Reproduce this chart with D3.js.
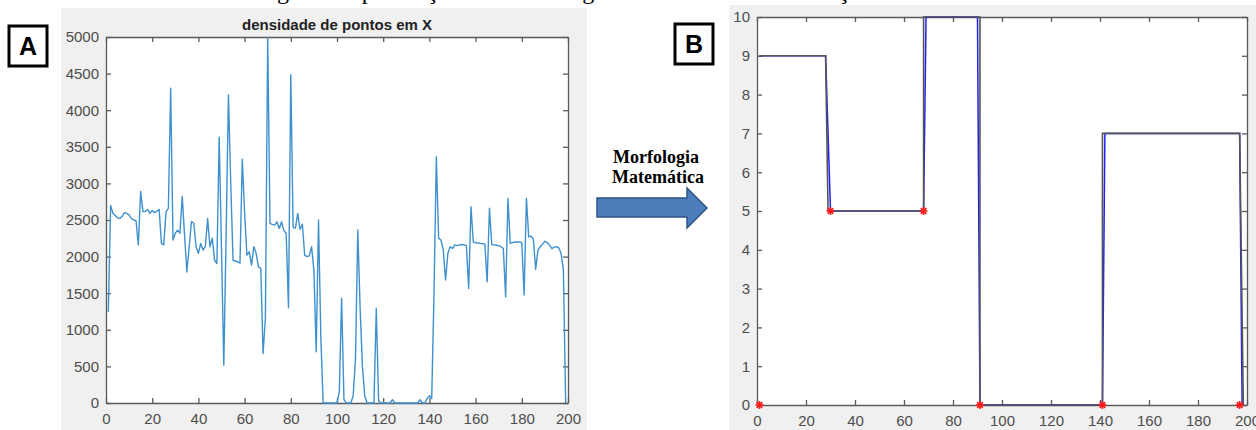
<!DOCTYPE html>
<html>
<head>
<meta charset="utf-8">
<script src="https://cdn.jsdelivr.net/npm/d3@7"></script>
<style>
  body { margin: 0; background: #fff; }
  svg { display: block; }
</style>
</head>
<body>
<svg id="fig" width="1256" height="430"></svg>
<script>
// ---- dados ----
// A: densidade de pontos por coluna, X = 1..199
const densidade = [
  1245, 2700, 2590, 2560, 2530, 2520, 2550, 2600, 2590, 2570,
  2520, 2500, 2490, 2160, 2890, 2615, 2615, 2645, 2590, 2630,
  2600, 2620, 2645, 2180, 2160, 2615, 2660, 4300, 2225, 2320,
  2360, 2320, 2820, 2300, 1790, 2135, 2480, 2455, 2135, 2045,
  2180, 2090, 2135, 2520, 2135, 2250, 1950, 1905, 3630, 2100,
  515, 2300, 4210, 3000, 1950, 1940, 1930, 1910, 3330, 2600,
  2020, 2065, 1885, 2135, 2045, 1860, 1840, 675, 1155, 4990,
  2455, 2440, 2430, 2475, 2385, 2475, 2355, 2320, 1300, 4485,
  2400, 2390, 2590, 2370, 2445, 2020, 2000, 2010, 2135, 1815,
  700, 2500, 900, 0, 0, 0, 0, 0, 0, 0,
  150, 1430, 50, 0, 0, 0, 100, 600, 2365, 1300,
  500, 100, 0, 0, 0, 0, 1290, 35, 0, 0,
  0, 0, 0, 45, 0, 0, 0, 0, 0, 0,
  0, 0, 0, 0, 0, 45, 0, 0, 60, 100,
  60, 1500, 3365, 2250, 2225, 2090, 1680, 2045, 2135, 2110,
  2160, 2150, 2160, 2165, 2160, 2150, 1565, 2680, 2200, 2190,
  2185, 2180, 2175, 2170, 1655, 2660, 2165, 2160, 2155, 2150,
  2135, 2110, 1450, 2795, 2180, 2190, 2200, 2200, 2200, 2190,
  1475, 2795, 2270, 2280, 2240, 1825, 2090, 2135, 2170, 2210,
  2190, 2160, 2110, 2130, 2135, 2120, 2045, 1815, 0
];

// B: sinal apos morfologia (azul) e contorno (preto)
const azulX = [1, 28, 30, 68, 69, 90, 91, 141, 142, 197, 198];
const azulY = [9, 9, 5, 5, 10, 10, 0, 0, 7, 7, 0];
const pretoX = [1, 28, 29, 68, 68, 91, 91, 141, 141, 197, 198.5];
const pretoY = [9, 9, 5, 5, 10, 10, 0, 0, 7, 7, 0];
// pontos de transicao (asteriscos vermelhos)
const marcaX = [1, 30, 68, 91, 141, 197];
const marcaY = [0, 5, 5, 0, 0, 0];

// ticks
const ticksX = [0, 20, 40, 60, 80, 100, 120, 140, 160, 180, 200];
const ticksYA = [0, 500, 1000, 1500, 2000, 2500, 3000, 3500, 4000, 4500, 5000];
const ticksYB = [0, 1, 2, 3, 4, 5, 6, 7, 8, 9, 10];

const legenda = 'Figura 9 – pontuação do sinal e o gráfico obtido com a detecção';
const tituloA = 'densidade de pontos em X';

const svg = d3.select('#fig');
const sans = '"Liberation Sans", Arial, Helvetica, sans-serif';
const serif = '"Liberation Serif", "Times New Roman", serif';

// legenda cortada no topo da imagem (so as descendentes aparecem)
svg.append('text')
  .attr('x', 257).attr('y', -1)
  .style('font-family', serif).style('font-size', '24px')
  .text(legenda);

// fundos cinza das figuras do matlab
svg.append('rect').attr('x', 61).attr('y', 8).attr('width', 526).attr('height', 422).attr('fill', '#f0f0f0');
svg.append('rect').attr('x', 729).attr('y', 5).attr('width', 527).attr('height', 425).attr('fill', '#f0f0f0');

// caixas A / B
function caixa(x, y, letra) {
  svg.append('rect').attr('x', x).attr('y', y).attr('width', 38).attr('height', 40)
    .attr('fill', '#fff').attr('stroke', '#000').attr('stroke-width', 3);
  svg.append('text').attr('x', x + 19).attr('y', y + 29)
    .attr('text-anchor', 'middle')
    .style('font-family', sans).style('font-weight', 'bold').style('font-size', '25px')
    .text(letra);
}
caixa(9, 26, 'A');
caixa(675, 24, 'B');

// eixos estilo matlab: caixa com ticks para dentro
function moldura(g, xs, ys, yTicks, w, h) {
  g.append('rect').attr('width', w).attr('height', h).attr('fill', '#fff');
  const fmt = d3.format('d');
  const eixos = [
    g.append('g').attr('transform', `translate(0,${h})`)
      .call(d3.axisBottom(xs).tickValues(ticksX).tickFormat(fmt).tickSizeInner(-5).tickSizeOuter(0).tickPadding(10)),
    g.append('g')
      .call(d3.axisTop(xs).tickValues(ticksX).tickSizeInner(-5).tickSizeOuter(0).tickFormat('')),
    g.append('g')
      .call(d3.axisLeft(ys).tickValues(yTicks).tickFormat(fmt).tickSizeInner(-5).tickSizeOuter(0).tickPadding(7)),
    g.append('g').attr('transform', `translate(${w},0)`)
      .call(d3.axisRight(ys).tickValues(yTicks).tickSizeInner(-5).tickSizeOuter(0).tickFormat(''))
  ];
  eixos.forEach(a => {
    a.attr('font-family', sans).attr('font-size', 15);
    a.selectAll('.domain, .tick line').attr('stroke', '#5a5a5a').attr('stroke-width', 1.3);
    a.selectAll('text').attr('fill', '#4d4d4d');
  });
}

// ---- painel A ----
const A = { left: 106, top: 37, w: 462, h: 366 };
const gA = svg.append('g').attr('transform', `translate(${A.left},${A.top})`);
const xA = d3.scaleLinear().domain([0, 200]).range([0, A.w]);
const yA = d3.scaleLinear().domain([0, 5000]).range([A.h, 0]);
moldura(gA, xA, yA, ticksYA, A.w, A.h);

const linhaA = d3.line().x((d, i) => xA(i + 1)).y(d => yA(d));
gA.append('path').datum(densidade)
  .attr('d', linhaA)
  .attr('fill', 'none').attr('stroke', '#3f90ce').attr('stroke-width', 1.4)
  .attr('stroke-linejoin', 'round');

gA.append('text')
  .attr('x', A.w / 2).attr('y', -7)
  .attr('text-anchor', 'middle')
  .style('font-family', sans).style('font-weight', 'bold').style('font-size', '15px')
  .attr('fill', '#222')
  .text(tituloA);

// ---- seta ----
const seta = d3.path();
seta.moveTo(597, 198); seta.lineTo(687, 198); seta.lineTo(687, 188); seta.lineTo(707, 208);
seta.lineTo(687, 228); seta.lineTo(687, 217); seta.lineTo(597, 217); seta.closePath();
svg.append('path').attr('d', seta.toString())
  .attr('fill', '#4a7dba').attr('stroke', '#2f5486').attr('stroke-width', 1.5);

const rotulo = svg.append('text')
  .attr('text-anchor', 'middle')
  .style('font-family', serif).style('font-weight', 'bold').style('font-size', '18px');
rotulo.append('tspan').attr('x', 656).attr('y', 163).text('Morfologia');
rotulo.append('tspan').attr('x', 658).attr('y', 183).text('Matemática');

// ---- painel B ----
const B = { left: 757, top: 17, w: 490, h: 388 };
const gB = svg.append('g').attr('transform', `translate(${B.left},${B.top})`);
const xB = d3.scaleLinear().domain([0, 200]).range([0, B.w]);
const yB = d3.scaleLinear().domain([0, 10]).range([B.h, 0]);
moldura(gB, xB, yB, ticksYB, B.w, B.h);

const linhaB = d3.line().x(d => xB(d[0])).y(d => yB(d[1]));
gB.append('path').datum(d3.zip(azulX, azulY))
  .attr('d', linhaB).attr('fill', 'none').attr('stroke', '#1f1fff').attr('stroke-width', 1.5);
gB.append('path').datum(d3.zip(pretoX, pretoY))
  .attr('d', linhaB).attr('fill', 'none').attr('stroke', '#555').attr('stroke-width', 1.6);

// asterisco vermelho
function asterisco(r) {
  const p = d3.path();
  const k = r * Math.SQRT1_2;
  p.moveTo(-r, 0); p.lineTo(r, 0);
  p.moveTo(0, -r); p.lineTo(0, r);
  p.moveTo(-k, -k); p.lineTo(k, k);
  p.moveTo(-k, k); p.lineTo(k, -k);
  return p.toString();
}
gB.selectAll('.marca')
  .data(d3.zip(marcaX, marcaY))
  .enter()
  .append('path')
  .attr('class', 'marca')
  .attr('transform', d => `translate(${xB(d[0])},${yB(d[1])})`)
  .attr('d', asterisco(4))
  .attr('stroke', '#ff1a1a').attr('stroke-width', 1.6);
</script>
</body>
</html>
